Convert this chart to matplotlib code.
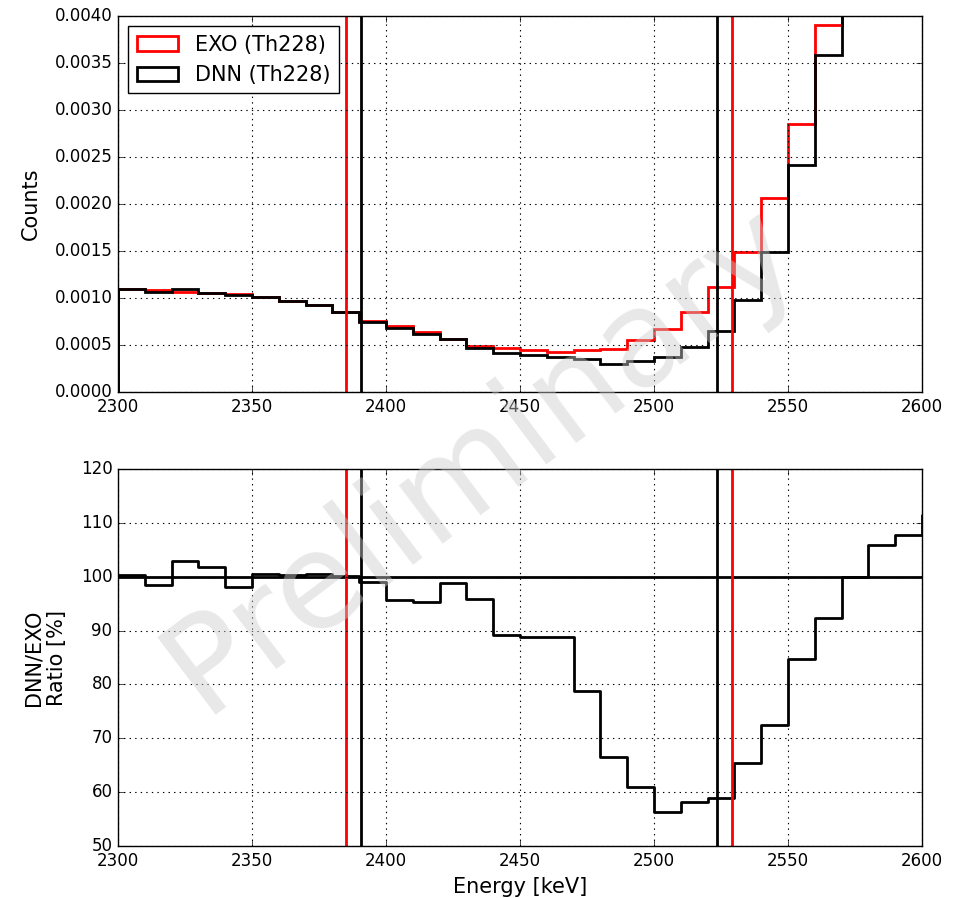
import numpy as np
import matplotlib
matplotlib.use("Agg")
import matplotlib.pyplot as plt
from matplotlib.ticker import FormatStrFormatter, MultipleLocator

# --- data (10 keV bins starting at 2300 keV) ---
bin_edges = np.arange(2300, 2620, 10)  # last few bins lie above the y-limit

exo_counts = [0.001096, 0.001082, 0.001064, 0.001050, 0.001039, 0.001014,
              0.000968, 0.000925, 0.000851, 0.000759, 0.000706, 0.000642,
              0.000564, 0.000493, 0.000465, 0.000447, 0.000429, 0.000447,
              0.000460, 0.000550, 0.000670, 0.000850, 0.001120, 0.001490,
              0.002060, 0.002850, 0.003900,
              0.005200, 0.006800, 0.008800, 0.011000]  # last 4 off-chart (estimated)

dnn_counts = [0.001096, 0.001067, 0.001092, 0.001057, 0.001032, 0.001007,
              0.000968, 0.000929, 0.000851, 0.000748, 0.000677, 0.000620,
              0.000560, 0.000472, 0.000411, 0.000394, 0.000376, 0.000351,
              0.000300, 0.000330, 0.000370, 0.000480, 0.000650, 0.000980,
              0.001490, 0.002420, 0.003590,
              0.005200, 0.007200, 0.009500, 0.011800]  # last 4 off-chart (estimated)

ratio_pct = [100.4, 98.4, 102.9, 101.9, 98.1, 100.6, 100.3, 100.5, 100.2,
             99.0, 95.6, 95.4, 98.8, 95.9, 89.1, 88.9, 88.8, 78.7, 66.5,
             60.9, 56.3, 58.1, 59.0, 65.4, 72.5, 84.7, 92.3, 99.9, 105.8,
             107.8, 111.5]

exo_roi = [2385.0, 2529.2]
dnn_roi = [2390.6, 2523.4]

# --- plotting ---
plt.style.use("classic")
plt.rcParams["figure.facecolor"] = "white"
plt.rcParams["savefig.facecolor"] = "white"
plt.rcParams["font.size"] = 12

fig = plt.figure(figsize=(9.69, 8.98), dpi=100)
ax1 = fig.add_axes([0.1218, 0.5635, 0.8297, 0.4187])
ax2 = fig.add_axes([0.1218, 0.0579, 0.8297, 0.4198])

centers = bin_edges[:-1]
ax1.hist(centers, bins=bin_edges, weights=exo_counts, histtype="step",
         color="red", lw=2, label="EXO (Th228)")
ax1.hist(centers, bins=bin_edges, weights=dnn_counts, histtype="step",
         color="black", lw=2, label="DNN (Th228)")

ax2.axhline(100, color="black", lw=2)
x_step = np.append(centers, bin_edges[-1])
y_step = np.append(ratio_pct, ratio_pct[-1])
ax2.step(x_step, y_step, where="post", color="black", lw=2)

for ax in (ax1, ax2):
    for x in exo_roi:
        ax.axvline(x, color="red", lw=2)
    for x in dnn_roi:
        ax.axvline(x, color="black", lw=2)
    ax.set_xlim(2300, 2600)
    ax.xaxis.set_major_locator(MultipleLocator(50))
    ax.grid(True, color="black", linestyle=":", lw=0.8)
    ax.tick_params(labelsize=12)

ax1.set_ylim(0, 0.004)
ax1.yaxis.set_major_locator(MultipleLocator(0.0005))
ax1.yaxis.set_major_formatter(FormatStrFormatter("%.4f"))
ax1.set_ylabel("Counts", fontsize=15, labelpad=10)
ax1.legend(loc="upper left", fontsize=15, fancybox=False)

ax2.set_ylim(50, 120)
ax2.yaxis.set_major_locator(MultipleLocator(10))
ax2.set_ylabel("DNN/EXO\nRatio [%]", fontsize=15, labelpad=10)
ax2.set_xlabel("Energy [keV]", fontsize=15)

fig.text(0.497, 0.49, "Preliminary", fontsize=96, color="0.8", alpha=0.45,
         rotation=37, ha="center", va="center", zorder=10)

fig.savefig("out.png", dpi=100)
